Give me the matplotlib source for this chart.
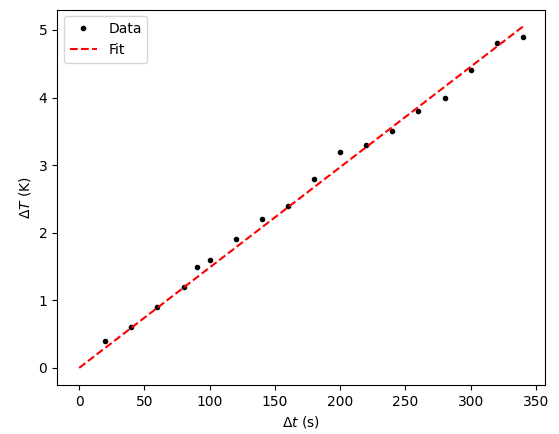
import numpy as np
import matplotlib
matplotlib.use('Agg')
import matplotlib.pyplot as plt

# measured points
dt = np.array([20, 40, 60, 80, 90, 100, 120, 140, 160, 180, 200, 220, 240, 260, 280, 300, 320, 340])
dT = np.array([0.4, 0.6, 0.9, 1.2, 1.5, 1.6, 1.9, 2.2, 2.4, 2.8, 3.2, 3.3, 3.5, 3.8, 4.0, 4.4, 4.8, 4.9])

# fit line (through origin)
fit_x = np.array([0, 340])
fit_slope = 0.01485

fig = plt.figure(figsize=(5.59, 4.34), dpi=100)
ax = fig.add_axes([0.102, 0.113, 0.873, 0.865])
ax.plot(dt, dT, 'k.', label='Data')
ax.plot(fit_x, fit_slope * fit_x, 'r--', label='Fit')
ax.set_xlabel(r'$\Delta t$ (s)')
ax.set_ylabel(r'$\Delta T$ (K)')
ax.legend(loc='upper left')
fig.savefig('out.png', dpi=100)
